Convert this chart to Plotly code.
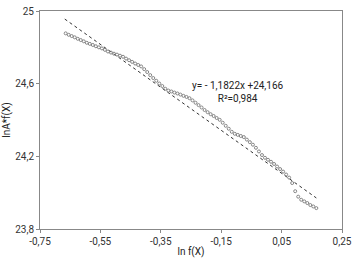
import plotly.graph_objects as go

# Measured data (ln f(X), ln A*f(X))
x_data = [-0.665, -0.655, -0.645, -0.635, -0.625, -0.615, -0.605, -0.595, -0.585, -0.575,
          -0.565, -0.555, -0.545, -0.535, -0.525, -0.515, -0.505, -0.495, -0.485, -0.475,
          -0.465, -0.455, -0.445, -0.435, -0.425, -0.415, -0.405, -0.395, -0.385, -0.375,
          -0.365, -0.355, -0.345, -0.335, -0.325, -0.315, -0.305, -0.295, -0.285, -0.275,
          -0.265, -0.255, -0.245, -0.235, -0.225, -0.215, -0.205, -0.195, -0.185, -0.175,
          -0.165, -0.155, -0.145, -0.135, -0.125, -0.115, -0.105, -0.095, -0.085, -0.075,
          -0.065, -0.055, -0.045, -0.035, -0.025, -0.015, -0.005, 0.005, 0.015, 0.025,
          0.035, 0.045, 0.055, 0.065, 0.075, 0.085, 0.095, 0.105, 0.115, 0.125,
          0.135, 0.145, 0.155, 0.165]
y_data = [24.877, 24.869, 24.862, 24.855, 24.847, 24.840, 24.833, 24.825, 24.819, 24.813,
          24.806, 24.800, 24.794, 24.786, 24.777, 24.771, 24.765, 24.760, 24.754, 24.748,
          24.738, 24.729, 24.720, 24.711, 24.703, 24.695, 24.680, 24.664, 24.647, 24.631,
          24.616, 24.601, 24.587, 24.572, 24.562, 24.557, 24.551, 24.546, 24.540, 24.533,
          24.527, 24.520, 24.508, 24.495, 24.482, 24.469, 24.455, 24.443, 24.432, 24.422,
          24.411, 24.401, 24.385, 24.368, 24.352, 24.335, 24.324, 24.318, 24.312, 24.306,
          24.292, 24.278, 24.264, 24.247, 24.227, 24.207, 24.192, 24.181, 24.170, 24.158,
          24.144, 24.130, 24.116, 24.100, 24.083, 24.053, 24.008, 23.978, 23.961, 23.952,
          23.943, 23.932, 23.924, 23.915]

# Linear fit
slope = -1.1822
intercept = 24.166
fit_x = [-0.668, 0.165]
fit_y = [slope * v + intercept for v in fit_x]

x_tickvals = [-0.75, -0.55, -0.35, -0.15, 0.05, 0.25]
x_ticktext = ["-0,75", "-0,55", "-0,35", "-0,15", "0,05", "0,25"]
y_tickvals = [23.8, 24.2, 24.6, 25.0]
y_ticktext = ["23,8", "24,2", "24,6", "25"]

fig = go.Figure()
fig.add_trace(go.Scatter(
    x=fit_x, y=fit_y, mode="lines",
    line=dict(color="#333333", width=1, dash="3px,3px"),
    showlegend=False, hoverinfo="skip"))
fig.add_trace(go.Scatter(
    x=x_data, y=y_data, mode="markers",
    marker=dict(symbol="circle-open", size=3, color="#7a7a7a", line=dict(width=0.9, color="#7a7a7a")),
    showlegend=False))

fig.add_annotation(x=0.655, y=0.628, xref="paper", yref="paper", xanchor="center", yanchor="middle",
                   text="y= - 1,1822x +24,166<br>R²=0,984", showarrow=False,
                   align="center", font=dict(size=10, color="#222222"))

axis_common = dict(showgrid=False, zeroline=False, showline=True, linecolor="#888888",
                   linewidth=1, mirror=True, ticks="outside", ticklen=3, tickcolor="#888888",
                   tickfont=dict(size=10, color="#333333"), automargin=False)

fig.update_xaxes(range=[-0.75, 0.25], tickvals=x_tickvals, ticktext=x_ticktext,
                 title=dict(text="ln f(X)", font=dict(size=10, color="#222222"), standoff=2),
                 **axis_common)
fig.update_yaxes(range=[23.8, 25.0], tickvals=y_tickvals, ticktext=y_ticktext,
                 title=dict(text="lnA*f(X)", font=dict(size=10, color="#222222"), standoff=2),
                 **axis_common)

fig.update_layout(width=356, height=258, margin=dict(l=40, r=14, t=11, b=29),
                  plot_bgcolor="white", paper_bgcolor="white",
                  font=dict(family="Roboto", size=10, color="#333333"))

fig.write_html("out.html", config={"displayModeBar": False},
               post_script="document.body.style.margin='0';")
